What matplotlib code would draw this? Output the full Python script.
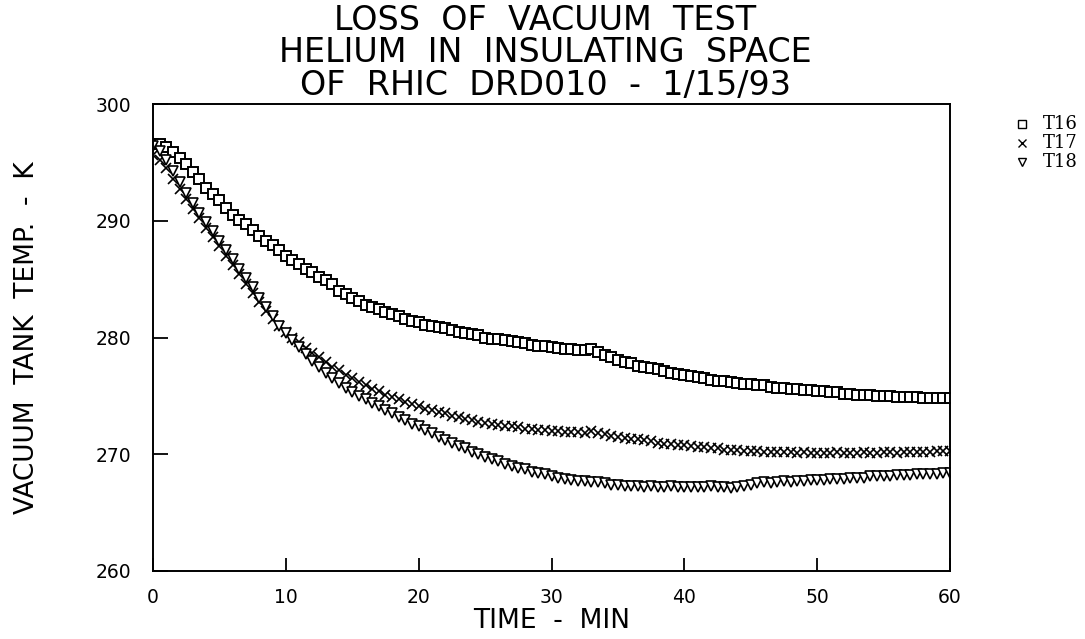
import matplotlib
matplotlib.use("Agg")
import matplotlib.pyplot as plt
from matplotlib.lines import Line2D

plt.rcParams['font.family'] = ['DejaVu Sans']

# time in minutes, every 0.5 min
time_min = [i * 0.5 for i in range(121)]

t16 = [296.6, 296.6, 296.3, 295.9, 295.4, 294.9, 294.2, 293.6, 292.8, 292.3,
       291.8, 291.1, 290.5, 290.1, 289.7, 289.2, 288.7, 288.3, 287.9, 287.5,
       287.0, 286.6, 286.3, 285.9, 285.6, 285.2, 284.9, 284.6, 284.0, 283.7,
       283.4, 283.1, 282.8, 282.6, 282.4, 282.2, 282.0, 281.8, 281.6, 281.4,
       281.3, 281.1, 281.0, 280.9, 280.8, 280.6, 280.5, 280.4, 280.3, 280.2,
       280.0, 279.9, 279.9, 279.8, 279.7, 279.6, 279.5, 279.4, 279.3, 279.3,
       279.2, 279.1, 279.0, 279.0, 278.9, 278.9, 279.0, 278.8, 278.5, 278.3,
       278.1, 277.9, 277.8, 277.6, 277.5, 277.4, 277.3, 277.1, 277.0, 276.9,
       276.8, 276.7, 276.6, 276.5, 276.4, 276.3, 276.3, 276.2, 276.1, 276.0,
       276.0, 275.9, 275.9, 275.8, 275.7, 275.7, 275.6, 275.6, 275.5, 275.5,
       275.4, 275.4, 275.3, 275.3, 275.2, 275.2, 275.1, 275.1, 275.1, 275.0,
       275.0, 275.0, 274.9, 274.9, 274.9, 274.9, 274.8, 274.8, 274.8, 274.8,
       274.8]

t17 = [295.6, 295.2, 294.5, 293.6, 292.7, 291.9, 291.0, 290.2, 289.4, 288.6,
       287.8, 287.0, 286.2, 285.4, 284.6, 283.8, 283.0, 282.3, 281.6, 281.0,
       280.5, 280.0, 279.6, 279.1, 278.7, 278.3, 277.9, 277.5, 277.2, 276.8,
       276.5, 276.2, 275.9, 275.6, 275.4, 275.1, 274.9, 274.7, 274.5, 274.3,
       274.1, 273.9, 273.8, 273.6, 273.5, 273.3, 273.2, 273.0, 272.9, 272.8,
       272.7, 272.6, 272.5, 272.4, 272.4, 272.3, 272.2, 272.2, 272.1, 272.1,
       272.0, 272.0, 271.9, 271.9, 271.9, 271.8, 272.0, 271.8, 271.7, 271.6,
       271.5, 271.4, 271.3, 271.3, 271.2, 271.1, 271.0, 270.9, 270.9, 270.8,
       270.8, 270.7, 270.6, 270.6, 270.5, 270.5, 270.4, 270.4, 270.4, 270.3,
       270.3, 270.3, 270.2, 270.2, 270.2, 270.2, 270.2, 270.1, 270.2, 270.1,
       270.1, 270.1, 270.1, 270.2, 270.1, 270.1, 270.1, 270.2, 270.1, 270.1,
       270.2, 270.2, 270.1, 270.2, 270.2, 270.2, 270.2, 270.2, 270.3, 270.3,
       270.3]

t18 = [296.4, 296.0, 295.2, 294.3, 293.3, 292.4, 291.5, 290.7, 289.9, 289.1,
       288.3, 287.5, 286.7, 285.9, 285.1, 284.3, 283.4, 282.6, 281.8, 281.0,
       280.4, 279.8, 279.2, 278.6, 278.0, 277.5, 277.0, 276.5, 276.1, 275.7,
       275.3, 275.0, 274.7, 274.4, 274.1, 273.8, 273.5, 273.2, 272.9, 272.6,
       272.4, 272.1, 271.8, 271.5, 271.2, 271.0, 270.7, 270.5, 270.2, 270.0,
       269.8, 269.6, 269.4, 269.2, 269.0, 268.8, 268.7, 268.5, 268.4, 268.3,
       268.1, 268.0, 267.9, 267.8, 267.7, 267.7, 267.6, 267.6, 267.5, 267.4,
       267.4, 267.3, 267.3, 267.3, 267.2, 267.3, 267.2, 267.2, 267.3, 267.2,
       267.2, 267.2, 267.2, 267.2, 267.3, 267.2, 267.2, 267.1, 267.2, 267.3,
       267.4, 267.5, 267.6, 267.5, 267.6, 267.7, 267.6, 267.7, 267.7, 267.8,
       267.8, 267.8, 267.9, 267.9, 267.9, 268.0, 268.0, 268.0, 268.1, 268.1,
       268.1, 268.1, 268.2, 268.2, 268.2, 268.3, 268.3, 268.3, 268.3, 268.4,
       268.4]

series_names = ["T16", "T17", "T18"]
x_ticks = [0, 10, 20, 30, 40, 50, 60]
y_ticks = [260, 270, 280, 290, 300]
title_lines = ["LOSS  OF  VACUUM  TEST",
               "HELIUM  IN  INSULATING  SPACE",
               "OF  RHIC  DRD010  -  1/15/93"]

W, H = 1085, 639
fig = plt.figure(figsize=(W / 100, H / 100), dpi=100)
ax = fig.add_axes([153 / W, 1 - 571 / H, (950 - 153) / W, (571 - 104) / H])

ms = 7.5
ax.plot(time_min, t16, linestyle='none', marker='s', ms=ms, mfc='white',
        mec='black', mew=1.4, label=series_names[0])
ax.plot(time_min, t17, linestyle='none', marker='x', ms=ms, mec='black',
        mew=1.2, label=series_names[1])
ax.plot(time_min, t18, linestyle='none', marker='v', ms=ms, mfc='white',
        mec='black', mew=1.2, label=series_names[2])

ax.set_xlim(0, 60)
ax.set_ylim(260, 300)
ax.set_xticks(x_ticks)
ax.set_yticks(y_ticks)
ax.tick_params(axis='both', direction='in', width=1.3, labelsize=13.5,
               top=False, right=False)
ax.tick_params(axis='x', length=9.5, pad=12)
ax.tick_params(axis='y', length=11, pad=16)
for s in ax.spines.values():
    s.set_linewidth(1.4)

ax.set_xlabel("TIME  -  MIN", fontsize=19, labelpad=1)
ax.set_ylabel("VACUUM  TANK  TEMP.  -  K", fontsize=19, labelpad=40)

cx = 545 / W
for i, line in enumerate(title_lines):
    fig.text(cx, 1 - (21 + 32 * i) / H, line, ha='center', va='center',
             fontsize=24)

# legend at right
markers = [dict(marker='s', mfc='white', mew=1.0),
           dict(marker='x', mew=1.0),
           dict(marker='v', mfc='white', mew=1.0)]
for i, (name, mk) in enumerate(zip(series_names, markers)):
    yy = 1 - (124 + 19 * i) / H
    fig.add_artist(Line2D([1022 / W], [yy], linestyle='none', ms=5.5,
                          mec='black', color='black', **mk))
    fig.text(1043 / W, yy, name, ha='left', va='center', fontsize=13,
             family='DejaVu Serif')

fig.savefig("out.png", dpi=100, facecolor='white')
